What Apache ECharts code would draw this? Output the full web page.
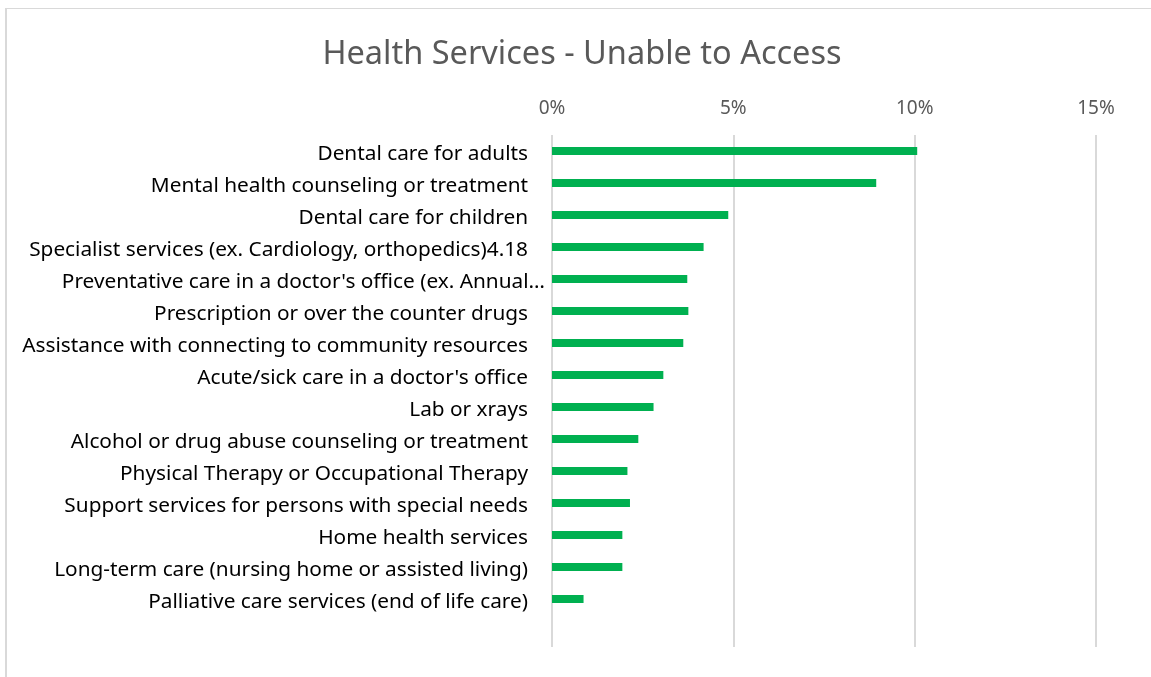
<!DOCTYPE html>
<html>
<head>
<meta charset="utf-8">
<script src="https://cdn.jsdelivr.net/npm/echarts@6/dist/echarts.min.js"></script>
<style>
  html, body { margin: 0; padding: 0; background: #fff; }
  #frame {
    position: absolute; left: 5px; top: 8px; right: -10px; bottom: -10px;
    border-top: 1px solid #d9d9d9; border-left: 2px solid #d9d9d9;
  }
  #chart { position: absolute; left: 0; top: 0; width: 1151px; height: 677px; }
</style>
</head>
<body>
<div id="frame"></div>
<div id="chart"></div>
<script>
const GREEN = '#00b050';
const FONT = 'Noto Sans';
const LABEL_SIZE = 20.8;

const categories = [
  'Dental care for adults',
  'Mental health counseling or treatment',
  'Dental care for children',
  'Specialist services (ex. Cardiology, orthopedics)4.18',
  "Preventative care in a doctor's office (ex. Annual\u2026",
  'Prescription or over the counter drugs',
  'Assistance with connecting to community resources',
  "Acute/sick care in a doctor's office",
  'Lab or xrays',
  'Alcohol or drug abuse counseling or treatment',
  'Physical Therapy or Occupational Therapy',
  'Support services for persons with special needs',
  'Home health services',
  'Long-term care (nursing home or assisted living)',
  'Palliative care services (end of life care)'
];

// percent unable to access
const values = [10.07, 8.94, 4.86, 4.18, 3.73, 3.76, 3.62, 3.07, 2.80, 2.38, 2.08, 2.15, 1.94, 1.94, 0.87];

const xTicks = [0, 5, 10, 15];

// the truncated label sits closer to the axis, like excel does it
const truncated = categories[4];

const chartOptions = {
  animation: false,
  title: {
    text: 'Health Services - Unable to Access',
    left: 577,
    top: 33,
    textAlign: 'center',
    textStyle: {
      color: '#595959',
      fontFamily: FONT,
      fontSize: 32.5,
      fontWeight: 'normal'
    }
  },
  grid: {
    left: 552,
    right: 55,
    top: 135,
    height: 512
  },
  xAxis: {
    type: 'value',
    position: 'top',
    min: xTicks[0],
    max: xTicks[xTicks.length - 1],
    interval: 5,
    axisLine: { show: false },
    axisTick: { show: false },
    axisLabel: {
      margin: 17,
      color: '#595959',
      fontFamily: FONT,
      fontSize: 19,
      formatter: '{value}%'
    },
    splitLine: { lineStyle: { color: '#d9d9d9', width: 2 } }
  },
  yAxis: {
    type: 'category',
    inverse: true,
    // one blank slot at the bottom, the plot area runs on below the last bar
    data: categories.concat(['']),
    axisLine: { show: false },
    axisTick: { show: false },
    axisLabel: {
      margin: 7,
      interval: 0,
      color: '#000',
      fontFamily: FONT,
      fontSize: LABEL_SIZE,
      formatter: (name) => name === truncated ? `{t|${name}}` : `{n|${name}}`,
      rich: {
        // top padding nudges the text a little below the bar, as in excel
        n: { color: '#000', fontFamily: FONT, fontSize: LABEL_SIZE, padding: [6, 17, 0, 0] },
        t: { color: '#000', fontFamily: FONT, fontSize: LABEL_SIZE, padding: [6, 0, 0, 0] }
      }
    }
  },
  series: [{
    type: 'bar',
    data: values,
    barWidth: 8,
    itemStyle: { color: GREEN }
  }]
};

const chart = echarts.init(document.getElementById('chart'));
chart.setOption(chartOptions);
</script>
</body>
</html>
